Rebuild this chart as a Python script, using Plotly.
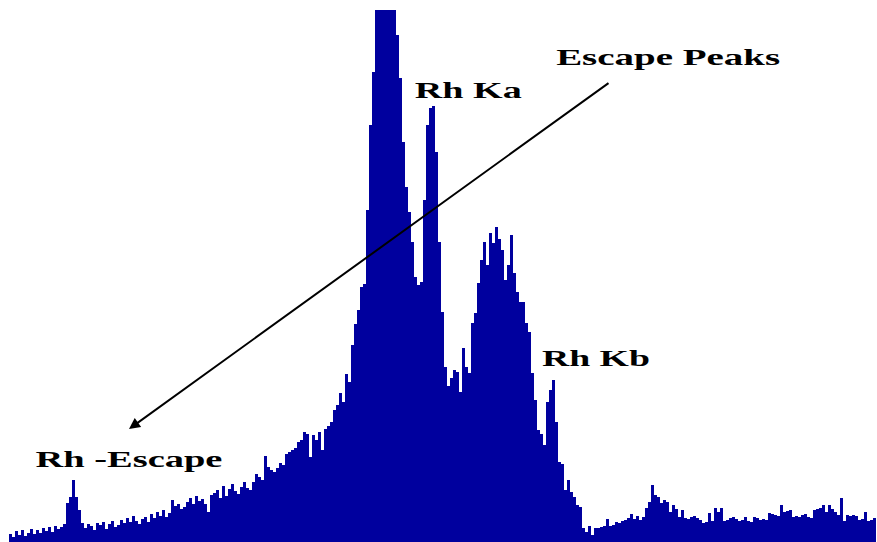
import numpy as np
import plotly.graph_objects as go

# Spectrum counts per channel, grouped by region of the spectrum
counts_escape = [0, 0, 0, 8, 5, 11, 7, 12, 6, 9, 13, 8,
                 12, 9, 14, 11, 15, 10, 16, 13, 15, 18, 39,
                 45, 62, 45, 32,
                 19, 14, 18, 16, 12, 19, 17, 20, 13, 18, 21, 15, 17]
counts_rise = [22, 19, 24, 20, 26, 21, 18, 23, 25, 20,
               28, 24, 30, 26, 32, 25, 29,
               42, 36, 38, 33, 35, 40, 44, 38, 46, 41,
               43, 38, 30, 47, 49, 52, 44, 56, 46, 53, 58, 51, 48, 55, 60, 54, 52,
               60, 68, 65, 62, 86, 75, 72, 70, 74, 79, 77, 88, 90,
               92, 94, 100, 102, 110, 108, 85, 107, 102, 110, 92, 113, 116, 120, 132]
counts_ka = [137, 149, 140, 168, 160, 197, 218, 232, 255, 258, 332, 417, 470,
             560, 610, 650, 680, 660, 620, 570,
             507, 464, 400, 355, 330, 300, 265, 257, 260, 342,
             417, 434, 436, 390, 300, 230, 175, 156, 164, 172]
counts_kb = [170, 150, 194, 175, 169, 219, 229, 259, 282, 300,
             277, 309, 299, 315, 303, 292, 262, 277, 307, 269,
             250, 240, 240, 219, 210, 169, 142, 112, 108, 97,
             140, 152, 162, 120, 80, 78, 52, 62, 50, 45,
             37, 35, 14, 10, 16, 7, 14, 14]
counts_tail = [15, 16, 23, 16, 17, 20, 19, 21, 22, 24, 28, 23, 26, 22, 25, 34,
               40, 57, 47, 45, 39, 42, 40, 30, 37, 33,
               25, 32, 24, 23, 25, 26, 24, 22, 19, 20,
               29, 21, 34, 30, 34, 21, 22, 24, 25, 23,
               21, 22, 25, 21, 20, 25, 24, 22, 23, 22,
               29, 28, 27, 26, 37, 30, 31, 32, 25, 26,
               25, 27, 28, 25, 24, 32, 33, 34, 37, 30,
               37, 33, 30, 27, 44, 21, 27, 26, 27, 26,
               22, 23, 30, 21, 22, 24]

labels = ["Escape Peaks", "Rh Ka", "Rh Kb", "Rh -Escape"]

counts = np.array(counts_escape + counts_rise + counts_ka + counts_kb + counts_tail)
channels = np.arange(len(counts))

W, H, TOP = 877, 542, 10
PLOT_H = H - TOP

fig = go.Figure(go.Bar(
    x=channels, y=counts,
    marker=dict(color="#00009E", line=dict(width=0)),
    hoverinfo="skip",
))


def px(x):
    return x / W


def py(y):
    return (H - y) / PLOT_H


label_pos = {
    "Escape Peaks": (668, 57.5),
    "Rh Ka": (468, 90.5),
    "Rh Kb": (596, 358.5),
    "Rh -Escape": (128.5, 459.5),
}
label_width = {"Escape Peaks": 224, "Rh Ka": 107, "Rh Kb": 108, "Rh -Escape": 187}

annotations = []
for name in labels:
    x, y = label_pos[name]
    annotations.append(dict(
        x=px(x), y=py(y), xref="paper", yref="paper",
        text=name, showarrow=False, xanchor="center", yanchor="middle",
        font=dict(family="Liberation Serif", size=23, color="#000000", weight="bold"),
    ))

# Arrow from the "Escape Peaks" caption down to the escape line
tip = (129, 429)
tail = (610, 82)
annotations.append(dict(
    x=px(tip[0]), y=py(tip[1]), xref="paper", yref="paper",
    ax=tail[0] - tip[0], ay=tail[1] - tip[1], axref="pixel", ayref="pixel",
    text="", showarrow=True, arrowhead=2, arrowsize=1.1, arrowwidth=2,
    arrowcolor="#000000", standoff=0, startstandoff=0,
))

fig.update_layout(
    width=W, height=H,
    margin=dict(l=0, r=0, t=TOP, b=0, pad=0),
    paper_bgcolor="white", plot_bgcolor="white",
    bargap=0, showlegend=False,
    xaxis=dict(range=[-0.5, len(counts) - 0.5 + 1 / 3], visible=False, fixedrange=True),
    yaxis=dict(range=[0, PLOT_H], visible=False, fixedrange=True),
    annotations=annotations,
)

# Widen the bold serif captions to their set widths
widths_js = ", ".join('"%s": %d' % (k, v) for k, v in label_width.items())
post = """
var gd = document.getElementById('{plot_id}');
var widths = {%s};
gd.querySelectorAll('text.annotation-text').forEach(function (t) {
  var w = widths[t.textContent];
  if (w) {
    t.setAttribute('textLength', w);
    t.setAttribute('lengthAdjust', 'spacingAndGlyphs');
  }
});
""" % widths_js

fig.write_html("out.html", post_script=post, config={"displayModeBar": False})
